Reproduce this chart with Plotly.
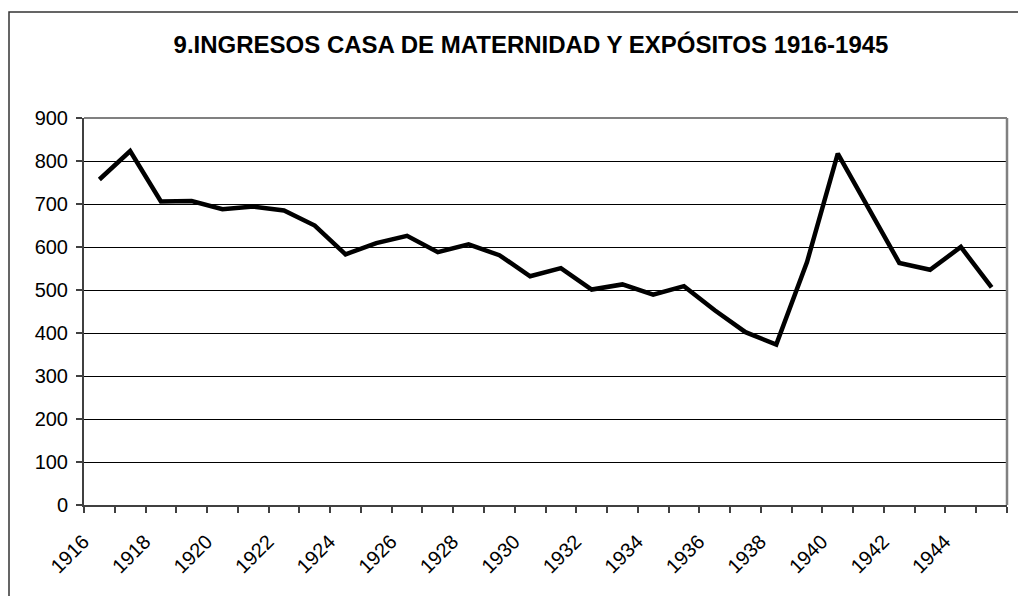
import plotly.graph_objects as go

years = list(range(1916, 1946))
ingresos = [757, 823, 706, 707, 688, 694, 685, 650, 583, 609,
            626, 588, 606, 581, 532, 551, 501, 513, 489, 509,
            453, 402, 373, 565, 817, 689, 563, 547, 600, 506]
tick_years = years[::2]
title_text = "9.INGRESOS CASA DE MATERNIDAD Y EXPÓSITOS 1916-1945"

# page has an 8px body margin; figure coords are offset by it
OFF = 8
W, H = 1026 - OFF, 596 - OFF
L, T = 84 - OFF, 118 - OFF
R = W - (1007 - OFF)
B = H - (505 - OFF)
pw, ph = W - L - R, H - T - B

fig = go.Figure()
fig.add_trace(go.Scatter(x=years, y=ingresos, mode="lines",
                         line=dict(color="black", width=4.5),
                         showlegend=False, hoverinfo="x+y"))
# invisible trace to activate label axis
fig.add_trace(go.Scatter(x=years, y=ingresos, xaxis="x2", mode="lines",
                         line=dict(width=0), opacity=0, showlegend=False,
                         hoverinfo="skip"))

boundaries = [y - 0.5 for y in years] + [years[-1] + 0.5]
xrange_ = [years[0] - 0.5, years[-1] + 0.5]

font = dict(family="Liberation Sans, Arial, sans-serif", color="black")

fig.update_layout(
    width=W, height=H,
    margin=dict(l=L, r=R, t=T, b=B, autoexpand=False),
    paper_bgcolor="white", plot_bgcolor="white",
    font=font,
    title=dict(text="<b>" + title_text + "</b>",
               font=dict(size=24, family="Liberation Sans, Arial, sans-serif", color="black"),
               x=(531 - OFF) / W, xanchor="center", xref="container",
               y=1 - (45 - OFF) / H, yanchor="middle", yref="container"),
    xaxis=dict(range=xrange_, tickmode="array", tickvals=boundaries,
               showticklabels=False, ticks="outside", ticklen=6,
               tickwidth=1.5, tickcolor="#404040",
               showgrid=False, zeroline=False,
               showline=True, linecolor="#404040", linewidth=2),
    xaxis2=dict(range=xrange_, overlaying="x", anchor="y", side="bottom",
                tickmode="array", tickvals=tick_years,
                ticktext=[str(y) for y in tick_years],
                tickangle=-45, ticks="", showgrid=False, zeroline=False,
                showline=False, tickfont=dict(size=20, **font),
                ticklabelstandoff=20, ticklabelshift=-16),
    yaxis=dict(range=[0, 900], dtick=100, tick0=0,
               showgrid=True, gridcolor="black", gridwidth=1,
               zeroline=False, showline=True, linecolor="#404040", linewidth=2,
               ticks="outside", ticklen=6, tickwidth=1.5, tickcolor="#404040",
               tickfont=dict(size=20, **font), ticklabelstandoff=4),
    shapes=[
        dict(type="line", xref="paper", yref="paper", x0=0, x1=1, y0=1, y1=1,
             line=dict(color="#808080", width=2), layer="above"),
        dict(type="line", xref="paper", yref="paper", x0=1, x1=1, y0=0, y1=1,
             line=dict(color="#808080", width=2.5), layer="above"),
        dict(type="rect", xref="paper", yref="paper",
             x0=(9 - 84) / pw, x1=(1040 - 84) / pw,
             y0=(505 - 610) / ph, y1=(505 - 12) / ph,
             line=dict(color="#333333", width=1.5), layer="above"),
    ],
)

fig.write_html("out.html")
